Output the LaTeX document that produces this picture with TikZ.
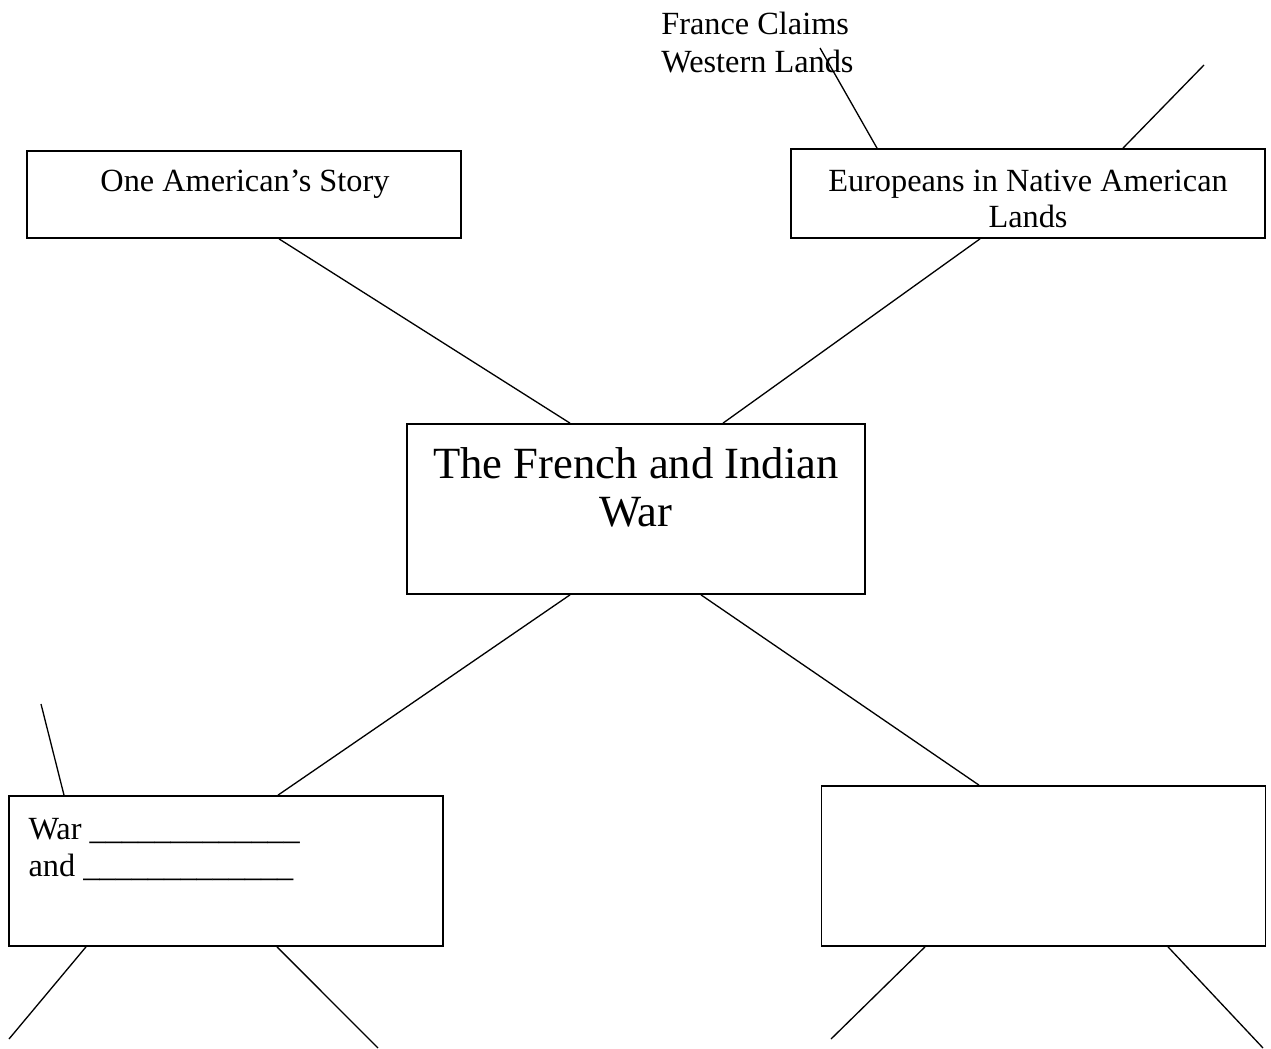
\documentclass[tikz,border=0pt]{standalone}
\usepackage{fontspec}
\setmainfont{Liberation Serif}
\usetikzlibrary{positioning, calc}

\tikzset{
  topic/.style={draw, line width=1pt, inner sep=0pt},
  lbl/.style={inner sep=0pt, align=center, font=\fontsize{18.4}{20.4}\selectfont},
  biglbl/.style={inner sep=0pt, align=center, font=\fontsize{25.4}{27.2}\selectfont},
  spoke/.style={line width=0.75pt},
}

\begin{document}
\begin{tikzpicture}[x=0.02cm, y=-0.02cm]
  \useasboundingbox (0,0) rectangle (1271,1048);
  \node[topic, minimum width=8.68cm, minimum height=1.74cm] (story) at (244,194.5) {};
  \node[topic, minimum width=9.48cm, minimum height=1.78cm] (lands) at (1028,193.5) {};
  \node[topic, minimum width=9.16cm, minimum height=3.4cm] (french) at (636,509) {};
  \node[topic, minimum width=8.68cm, minimum height=3cm] (warbox) at (226,871) {};
  \node[topic, minimum width=8.88cm, minimum height=3.2cm] (empty) at (1043.5,866) {};

  \node[lbl, anchor=north] (storytxt) at ($(story.north)+(1,20)$) {One American’s Story};
  \node[lbl, anchor=north] (landstxt) at ($(lands.north)+(0,22)$) {Europeans in Native American\\Lands};
  \node[biglbl, anchor=north] (frenchtxt) at ($(french.north)+(0,24)$) {The French and Indian\\War};
  \node[lbl, anchor=north west, align=left, font=\fontsize{18.4}{21}\selectfont] (wartxt) at ($(warbox.north west)+(20,22.5)$)
    {War \_\_\_\_\_\_\_\_\_\_\_\_\_\\and \_\_\_\_\_\_\_\_\_\_\_\_\_};
  \node[lbl, anchor=north west, align=left, font=\fontsize{18.4}{21.4}\selectfont] (claims) at (661,12) {France Claims\\Western Lands};

  \coordinate (claimsend) at (820,48);
  \coordinate (landsend) at (1204,65);
  \coordinate (warend) at (41,704);
  \coordinate (warleft) at (9,1039);
  \coordinate (warright) at (378,1048);
  \coordinate (emptyleft) at (831,1039);
  \coordinate (emptyright) at (1263,1048);

  \draw[spoke] ($(story.south)+(35,0)$) -- ($(french.north)+(-66,0)$);
  \draw[spoke] ($(lands.south)+(-48,0)$) -- ($(french.north)+(87,0)$);
  \draw[spoke] ($(french.south)+(-66,0)$) -- ($(warbox.north)+(52,0)$);
  \draw[spoke] ($(french.south)+(65,0)$) -- ($(empty.north)+(-64.5,0)$);
  \draw[spoke] ($(lands.north)+(-151,0)$) -- (claimsend);
  \draw[spoke] ($(lands.north)+(95,0)$) -- (landsend);
  \draw[spoke] ($(warbox.north)+(-162,0)$) -- (warend);
  \draw[spoke] ($(warbox.south)+(-140,0)$) -- (warleft);
  \draw[spoke] ($(warbox.south)+(51,0)$) -- (warright);
  \draw[spoke] ($(empty.south)+(-118.5,0)$) -- (emptyleft);
  \draw[spoke] ($(empty.south)+(124.5,0)$) -- (emptyright);
\end{tikzpicture}
\end{document}
